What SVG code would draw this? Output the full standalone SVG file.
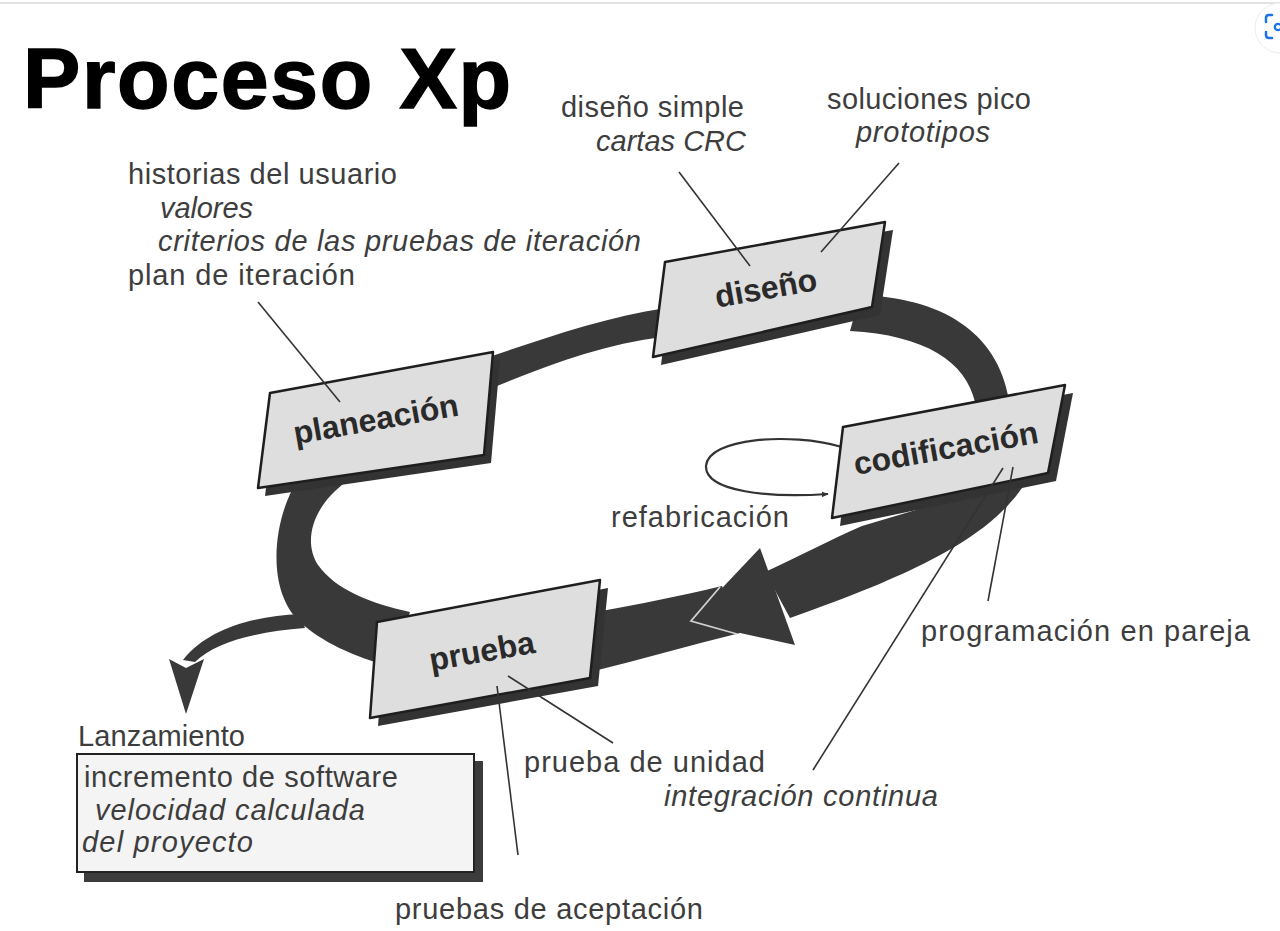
<svg xmlns="http://www.w3.org/2000/svg" width="1280" height="931" viewBox="0 0 1280 931">
<defs>
<style>
.lbl{font-family:"Liberation Sans",Arial,sans-serif;font-size:29px;fill:#3d3d3d}
.it{font-style:italic}
.nt{font-family:"Liberation Sans",Arial,sans-serif;font-size:32px;font-weight:bold;fill:#2a2a2a}
.card{fill:#dedede;stroke:#1e1e1e;stroke-width:2.5;stroke-linejoin:round}
.shadow{fill:#333}
.band{fill:#393939}
.lead{stroke:#333;stroke-width:1.6;fill:none}
</style>
<marker id="ah" viewBox="0 0 10 10" refX="9" refY="5" markerWidth="7" markerHeight="7" orient="auto" markerUnits="userSpaceOnUse">
<path d="M0,1 L10,5 L0,9 Z" fill="#333"/>
</marker>
</defs>
<rect width="1280" height="931" fill="#ffffff"/>
<line x1="0" y1="3" x2="1280" y2="3" stroke="#e2e2e2" stroke-width="2"/>
<g id="lens-icon">
<circle cx="1280" cy="28" r="25" fill="#ffffff" stroke="#ececec" stroke-width="1"/>
<path d="M1266,22 V18 Q1266,15 1269,15 H1272 M1266,32 V35 Q1266,38 1269,38 H1272" fill="none" stroke="#1a73e8" stroke-width="2.5" stroke-linecap="round"/>
<circle cx="1278" cy="27" r="3.2" fill="none" stroke="#1a73e8" stroke-width="2.2"/>
</g>
<text x="23" y="108" font-family="Liberation Sans, Arial, sans-serif" font-size="86" font-weight="bold" fill="#000" stroke="#000" stroke-width="1.5" textLength="488">Proceso Xp</text>
<g id="connectors">
<path class="band" d="M480,360 C540,340 600,318 666,308 L662,337 C600,345 545,366 480,393 Z"/>
<path class="band" d="M860,295 C940,298 997,330 1009,400 L975,402 C966,362 925,335 850,331 Z"/>
<path class="band" d="M765,572 C800,556 830,540 862,526 L1030,476 C1000,525 950,562 790,618 Z"/>
<path class="band" d="M722,586 C680,596 640,604 596,612 L590,672 C640,660 690,645 740,633 Z"/>
<path class="band" d="M760,548 L690,622 L795,645 Z"/>
<polyline points="720,587 691,621 737,634" fill="none" stroke="#d0d0d0" stroke-width="1.8"/>
<path class="band" d="M292,490 C272,530 268,592 300,622 C322,642 352,656 392,667 L410,612 C370,603 336,590 318,565 C302,540 314,505 346,482 Z"/>
<path class="band" d="M300,614 C255,616 208,628 183,660 L195,662 C215,642 255,632 305,628 Z"/>
<path class="band" d="M169,659 L186,668 L204,659 L186,714 Z"/>
<path d="M842,447 C790,432 708,438 706,466 C705,492 770,498 828,494" fill="none" stroke="#333" stroke-width="2.2" marker-end="url(#ah)"/>
</g>
<g id="planeacion">
<polygon class="shadow" points="277,401 500,360 491,463 265,496"/>
<polygon class="card" points="270,393 493,352 484,455 258,488"/>
<text class="nt" x="376" y="430" text-anchor="middle" transform="rotate(-10 376 420)">planeación</text>
</g>
<g id="diseno">
<polygon class="shadow" points="673,270 893,230 880,315 661,365"/>
<polygon class="card" points="665,262 885,222 872,307 653,357"/>
<text class="nt" x="766" y="299" text-anchor="middle" transform="rotate(-10 766 289)">diseño</text>
</g>
<g id="codificacion">
<polygon class="shadow" points="851,435 1073,393 1056,481 840,526"/>
<polygon class="card" points="843,427 1065,385 1048,473 832,518"/>
<text class="nt" x="946" y="459" text-anchor="middle" transform="rotate(-10 946 449)">codificación</text>
</g>
<g id="prueba">
<polygon class="shadow" points="385,630 608,588 598,686 378,726"/>
<polygon class="card" points="377,622 600,580 590,678 370,718"/>
<text class="nt" x="482" y="662" text-anchor="middle" transform="rotate(-10 482 652)">prueba</text>
</g>
<g id="lanzamiento">
<rect x="84" y="761" width="399" height="121" fill="#3c3c3c"/>
<rect x="77" y="754" width="397" height="118" fill="#f4f4f4" stroke="#222" stroke-width="2"/>
<text class="lbl" x="84" y="787" textLength="314">incremento de software</text>
<text class="lbl it" x="95" y="820" textLength="270">velocidad calculada</text>
<text class="lbl it" x="82" y="852" textLength="171">del proyecto</text>
</g>
<g id="leaders">
<line class="lead" x1="258" y1="302" x2="340" y2="402"/>
<line class="lead" x1="679" y1="172" x2="750" y2="266"/>
<line class="lead" x1="899" y1="163" x2="821" y2="252"/>
<line class="lead" x1="1013" y1="467" x2="988" y2="601"/>
<line class="lead" x1="1003" y1="468" x2="813" y2="770"/>
<line class="lead" x1="508" y1="676" x2="613" y2="743"/>
<line class="lead" x1="497" y1="686" x2="518" y2="855"/>
</g>
<g id="labels">
<text class="lbl" x="128" y="184" textLength="269">historias del usuario</text>
<text class="lbl it" x="160" y="218" textLength="93">valores</text>
<text class="lbl it" x="158" y="251" textLength="483">criterios de las pruebas de iteración</text>
<text class="lbl" x="128" y="285" textLength="227">plan de iteración</text>
<text class="lbl" x="561" y="117" textLength="183">diseño simple</text>
<text class="lbl it" x="596" y="151" textLength="150">cartas CRC</text>
<text class="lbl" x="827" y="109" textLength="204">soluciones pico</text>
<text class="lbl it" x="856" y="142" textLength="134">prototipos</text>
<text class="lbl" x="611" y="527" textLength="178">refabricación</text>
<text class="lbl" x="921" y="641" textLength="329">programación en pareja</text>
<text class="lbl" x="524" y="772" textLength="241">prueba de unidad</text>
<text class="lbl it" x="664" y="806" textLength="274">integración continua</text>
<text class="lbl" x="395" y="919" textLength="308">pruebas de aceptación</text>
<text class="lbl" x="78" y="746" textLength="167">Lanzamiento</text>
</g>
</svg>
